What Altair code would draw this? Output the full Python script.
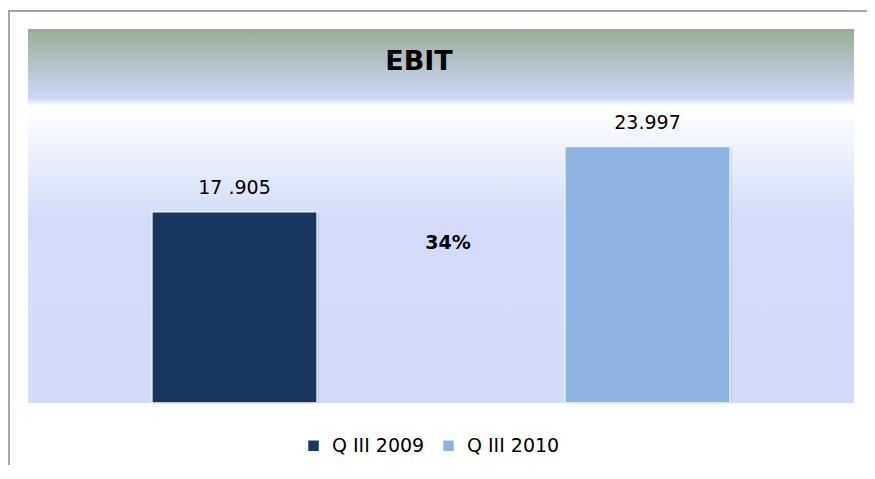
import altair as alt
import pandas as pd

categories = ["Q III 2009", "Q III 2010"]
values = [17.905, 23.997]
value_labels = ["17 .905", "23.997"]
bar_colors = ["#17375E", "#8DB4E2"]
title_text = "EBIT"
growth_text = "34%"

df = pd.DataFrame({"cat": categories, "val": values, "lab": value_labels})

W, H = 826, 374
FONT = "DejaVu Sans"

bg = alt.Chart(pd.DataFrame({"a": [0]})).mark_rect(
    fill=alt.Gradient(
        gradient="linear", x1=0, x2=0, y1=0, y2=1,
        stops=[
            alt.GradientStop(offset=0.0, color="#97AD94"),
            alt.GradientStop(offset=0.08, color="#B0C0C2"),
            alt.GradientStop(offset=0.183, color="#CCD7F6"),
            alt.GradientStop(offset=0.192, color="#DDE4FA"),
            alt.GradientStop(offset=0.2, color="#F6F8FE"),
            alt.GradientStop(offset=0.212, color="#FFFFFF"),
            alt.GradientStop(offset=0.5, color="#D3DDFA"),
            alt.GradientStop(offset=1.0, color="#D2DCFA"),
        ],
    )
).encode(x=alt.value(0), x2=alt.value(W), y=alt.value(0), y2=alt.value(H))

frame = alt.Chart(pd.DataFrame({"a": [0]})).mark_rect(
    fill=None, stroke="#A6A6A6", strokeWidth=2
).encode(x=alt.value(-19), x2=alt.value(W + 400), y=alt.value(-18), y2=alt.value(H + 400))

xenc = alt.X("cat:N", sort=categories, axis=None,
             scale=alt.Scale(paddingInner=0.6, paddingOuter=0.3))
yenc = alt.Y("val:Q", axis=None, scale=alt.Scale(domain=[0, 35], nice=False, zero=True))

shadow = alt.Chart(df).mark_bar(color="#7F8AA8", opacity=0.25, xOffset=2, yOffset=1).encode(
    x=xenc, y=yenc
)

bars = alt.Chart(df).mark_bar(stroke="#EEF1F8", strokeWidth=1.5).encode(
    x=xenc,
    y=yenc,
    color=alt.Color(
        "cat:N",
        sort=categories,
        scale=alt.Scale(domain=categories, range=bar_colors),
        legend=alt.Legend(
            title=None, orient="none", direction="horizontal",
            legendX=276, legendY=407, padding=0,
            symbolType="square", symbolSize=110, symbolStrokeWidth=0,
            labelFont=FONT, labelFontSize=19, labelColor="#000000",
            labelOffset=9, columnPadding=14,
        ),
    ),
)

labels = alt.Chart(df).mark_text(
    font=FONT, fontSize=19, color="#000000", baseline="alphabetic", dy=-18
).encode(x=xenc, y=yenc, text="lab:N")

title = alt.Chart(pd.DataFrame({"t": [title_text]})).mark_text(
    font=FONT, fontSize=27, fontWeight="bold", color="#000000", baseline="alphabetic"
).encode(x=alt.value(391), y=alt.value(41), text="t:N")

growth = alt.Chart(pd.DataFrame({"t": [growth_text]})).mark_text(
    font=FONT, fontSize=19, fontWeight="bold", color="#000000", baseline="alphabetic"
).encode(x=alt.value(420), y=alt.value(220), text="t:N")

chart = alt.layer(frame, bg, shadow, bars, labels, title, growth).properties(
    width=W, height=H,
    autosize=alt.AutoSizeParams(type="none"),
    padding={"left": 20, "top": 21, "right": 13, "bottom": 62},
    background="#FFFFFF",
).configure_view(stroke=None)

chart.save("out.html", embed_options={"renderer": "svg", "actions": False})
